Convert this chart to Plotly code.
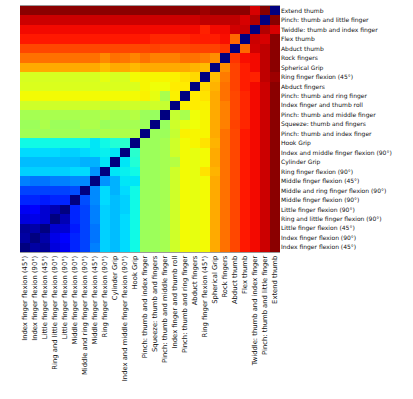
import numpy as np
import plotly.graph_objects as go

# Gesture classes, ordered from the first row/column (bottom/left) to the last (top/right)
labels = [
    "Index finger flexion (45°)",
    "Index finger flexion (90°)",
    "Little finger flexion (45°)",
    "Ring and little finger flexion (90°)",
    "Little finger flexion (90°)",
    "Middle finger flexion (90°)",
    "Middle and ring finger flexion (90°)",
    "Middle finger flexion (45°)",
    "Ring finger flexion (90°)",
    "Cylinder Grip",
    "Index and middle finger flexion (90°)",
    "Hook Grip",
    "Pinch: thumb and index finger",
    "Squeeze: thumb and fingers",
    "Pinch: thumb and middle finger",
    "Index finger and thumb roll",
    "Pinch: thumb and ring finger",
    "Abduct fingers",
    "Ring finger flexion (45°)",
    "Spherical Grip",
    "Rock fingers",
    "Abduct thumb",
    "Flex thumb",
    "Twiddle: thumb and index finger",
    "Pinch: thumb and little finger",
    "Extend thumb",
]

# Lower triangle of the distance matrix (row i, columns 0..i-1); diagonal is 0
lower = [
    [],
    [0.03],
    [0.02, 0.035],
    [0.08, 0.09, 0.07],
    [0.10, 0.11, 0.07, 0.045],
    [0.16, 0.16, 0.15, 0.16, 0.16],
    [0.19, 0.19, 0.19, 0.19, 0.19, 0.20],
    [0.25, 0.24, 0.24, 0.25, 0.25, 0.26, 0.26],
    [0.33, 0.33, 0.33, 0.33, 0.33, 0.34, 0.34, 0.27],
    [0.31, 0.31, 0.31, 0.31, 0.31, 0.31, 0.30, 0.30, 0.35],
    [0.34, 0.34, 0.34, 0.34, 0.33, 0.33, 0.34, 0.35, 0.36, 0.35],
    [0.37, 0.37, 0.37, 0.37, 0.37, 0.37, 0.37, 0.35, 0.37, 0.39, 0.40],
    [0.545, 0.545, 0.545, 0.545, 0.545, 0.545, 0.545, 0.545, 0.56, 0.56, 0.56, 0.56],
    [0.54, 0.54, 0.56, 0.54, 0.54, 0.54, 0.56, 0.56, 0.54, 0.55, 0.55, 0.55, 0.54],
    [0.55, 0.55, 0.555, 0.555, 0.555, 0.555, 0.555, 0.555, 0.57, 0.555, 0.555, 0.57, 0.54, 0.535],
    [0.60, 0.60, 0.60, 0.60, 0.60, 0.60, 0.60, 0.60, 0.59, 0.59, 0.60, 0.60, 0.59, 0.60, 0.59],
    [0.645, 0.645, 0.645, 0.645, 0.645, 0.645, 0.645, 0.645, 0.645, 0.645, 0.645, 0.645,
     0.655, 0.63, 0.555, 0.655],
    [0.615, 0.615, 0.615, 0.615, 0.615, 0.615, 0.615, 0.615, 0.615, 0.615, 0.615, 0.615,
     0.65, 0.64, 0.64, 0.66, 0.66],
    [0.61, 0.61, 0.61, 0.61, 0.61, 0.61, 0.61, 0.61, 0.63, 0.61, 0.61, 0.645,
     0.65, 0.65, 0.65, 0.655, 0.67, 0.68],
    [0.73, 0.73, 0.73, 0.73, 0.73, 0.73, 0.73, 0.73, 0.71, 0.73, 0.73, 0.715,
     0.73, 0.73, 0.73, 0.73, 0.73, 0.72, 0.71],
    [0.79, 0.79, 0.79, 0.79, 0.79, 0.79, 0.79, 0.79, 0.765, 0.79, 0.785, 0.77,
     0.79, 0.775, 0.775, 0.775, 0.79, 0.79, 0.78, 0.76],
    [0.835, 0.835, 0.835, 0.835, 0.835, 0.835, 0.835, 0.835, 0.835, 0.835, 0.835, 0.835,
     0.835, 0.84, 0.835, 0.835, 0.835, 0.84, 0.84, 0.84, 0.855],
    [0.885, 0.885, 0.885, 0.885, 0.885, 0.885, 0.885, 0.885, 0.885, 0.885, 0.885, 0.885,
     0.885, 0.87, 0.87, 0.87, 0.87, 0.88, 0.88, 0.88, 0.895, 0.80],
    [0.90, 0.90, 0.90, 0.90, 0.90, 0.90, 0.90, 0.90, 0.90, 0.90, 0.90, 0.90,
     0.90, 0.90, 0.90, 0.90, 0.90, 0.90, 0.875, 0.90, 0.90, 0.93, 0.935],
    [0.934, 0.934, 0.934, 0.934, 0.934, 0.934, 0.934, 0.934, 0.934, 0.934, 0.934, 0.934,
     0.934, 0.934, 0.934, 0.934, 0.934, 0.934, 0.945, 0.945, 0.945, 0.945, 0.925, 0.956],
    [0.99, 0.99, 0.99, 0.99, 0.99, 0.99, 0.99, 0.99, 0.99, 0.99, 0.99, 0.99,
     0.99, 0.99, 0.99, 0.99, 0.99, 0.99, 0.975, 0.99, 0.99, 0.99, 0.99, 0.925, 0.995],
]

# Lower-right block (finger-flexion rows 0..11 against classes 12..25): per-column level
block_cols = list(range(12, 26))
block_levels = [0.54, 0.54, 0.55, 0.60, 0.645, 0.63, 0.645,
                0.73, 0.79, 0.835, 0.885, 0.90, 0.934, 0.99]
# (row, column, value) cells in that block that stand out from their column
block_cells = [
    (11, 17, 0.65), (11, 18, 0.67), (11, 19, 0.72),
    (8, 18, 0.67), (8, 19, 0.72),
    (9, 15, 0.57),
]

n = len(labels)
z = np.zeros((n, n))
for i, row in enumerate(lower):
    for j, v in enumerate(row):
        z[i, j] = v
        z[j, i] = v
for c, lvl in zip(block_cols, block_levels):
    z[:12, c] = lvl
for r, c, v in block_cells:
    z[r, c] = v

# matplotlib "jet" colormap segments
jet_red = [(0.0, 0.0), (0.35, 0.0), (0.66, 1.0), (0.89, 1.0), (1.0, 0.5)]
jet_green = [(0.0, 0.0), (0.125, 0.0), (0.375, 1.0), (0.64, 1.0), (0.91, 0.0), (1.0, 0.0)]
jet_blue = [(0.0, 0.5), (0.11, 1.0), (0.34, 1.0), (0.65, 0.0), (1.0, 0.0)]


def channel(seg, t):
    xs, ys = zip(*seg)
    return float(np.interp(t, xs, ys))


stops = np.linspace(0, 1, 101)
jet = [
    [float(t), "rgb(%d,%d,%d)" % (round(255 * channel(jet_red, t)),
                                  round(255 * channel(jet_green, t)),
                                  round(255 * channel(jet_blue, t)))]
    for t in stops
]

fig = go.Figure(
    go.Heatmap(
        z=z,
        x=labels,
        y=labels,
        colorscale=jet,
        zmin=0,
        zmax=1,
        showscale=False,
        hovertemplate="%{y} / %{x}: %{z:.2f}<extra></extra>",
    )
)

fig.update_layout(
    width=413,
    height=399,
    margin=dict(l=20, r=133, t=6, b=147),
    paper_bgcolor="white",
    plot_bgcolor="white",
    font=dict(family="DejaVu Sans", color="#111"),
)
fig.update_xaxes(
    tickangle=-90,
    tickfont=dict(size=6.8),
    showgrid=False,
    zeroline=False,
    ticks="",
    showline=True,
    mirror=True,
    linecolor="#999",
    linewidth=1,
)
fig.update_yaxes(
    side="right",
    tickfont=dict(size=6),
    showgrid=False,
    zeroline=False,
    ticks="",
)

fig.write_html("out.html")
